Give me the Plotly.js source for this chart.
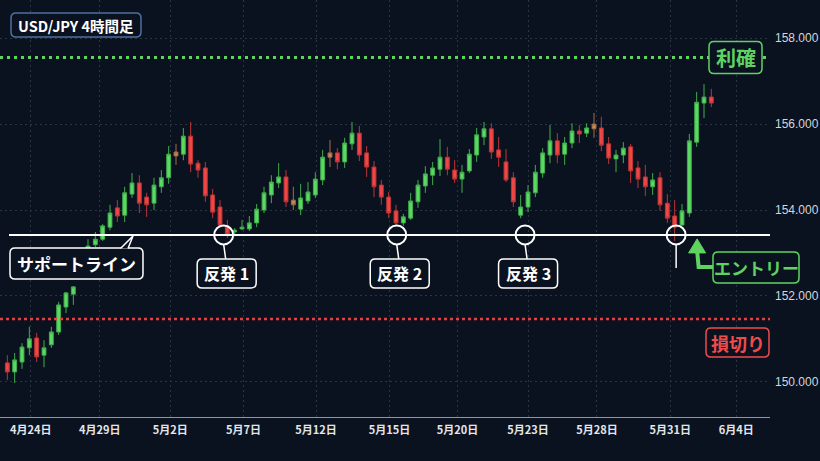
<!DOCTYPE html>
<html><head><meta charset="utf-8">
<script src="https://cdn.plot.ly/plotly-3.0.1.min.js"></script>
<style>html,body{margin:0;padding:0;background:#0a1220;}#chart{width:820px;height:461px;}</style>
</head><body><div id="chart"></div>
<script>
// ---- data (USD/JPY 4H candles) ----
const openP  = [150.44,150.23,150.46,150.79,151.02,150.62,150.86,151.16,151.74,152.04,
  152.49,153.12,153.19,153.32,153.60,154.05,153.88,154.37,154.63,154.30,
  154.16,154.54,154.75,155.26,155.30,155.72,155.09,154.98,154.35,154.07,
  153.63,153.49,153.56,153.56,153.70,154.00,154.35,154.63,154.77,154.23,
  154.02,154.21,154.35,154.70,155.23,155.33,155.12,155.54,155.79,155.33,
  155.00,154.58,154.30,153.98,153.70,153.81,154.19,154.56,154.81,154.95,
  155.23,154.93,154.72,154.91,155.28,155.70,155.89,155.40,155.12,154.75,
  153.88,154.07,154.40,154.86,155.28,155.61,155.30,155.56,155.84,155.79,
  155.89,155.91,155.54,155.19,155.28,155.47,154.98,154.77,154.54,154.75,
  154.16,153.86,153.65,153.93,155.58,156.49,156.63];
const highP  = [150.62,150.67,150.90,151.28,151.14,150.97,151.28,151.86,152.09,152.23,
  153.04,153.32,153.49,153.67,154.12,154.23,154.54,154.86,154.81,154.40,
  154.75,154.93,155.49,155.54,155.91,156.05,155.16,155.12,154.49,154.23,
  153.77,153.58,153.77,153.86,154.14,154.54,154.81,155.09,154.93,154.54,
  154.61,154.65,154.88,155.40,155.63,155.44,155.68,156.05,155.96,155.49,
  155.14,154.70,154.42,154.12,153.91,154.40,154.70,155.02,155.12,155.65,
  155.47,155.16,155.05,155.42,155.91,156.05,156.02,155.70,155.42,154.88,
  154.35,154.58,155.05,155.44,155.98,155.79,155.70,156.02,155.98,156.02,
  156.26,156.17,155.70,155.40,155.58,155.54,155.14,155.05,154.86,154.88,
  154.37,154.23,154.14,155.77,156.75,156.93,156.82];
const lowP   = [150.04,149.97,150.30,150.62,150.46,150.34,150.79,151.09,151.60,151.79,
  152.44,153.09,153.14,153.28,153.53,153.72,153.72,154.28,153.93,153.84,
  154.00,154.40,154.61,155.05,155.16,154.88,154.75,154.19,153.81,153.58,
  153.35,153.39,153.53,153.51,153.60,153.93,154.16,154.51,154.07,154.00,
  153.88,154.14,154.28,154.58,155.00,154.95,154.98,155.40,155.14,154.77,
  154.30,154.12,153.81,153.63,153.63,153.77,154.05,154.40,154.58,154.79,
  154.81,154.63,154.40,154.86,155.12,155.51,155.19,155.00,154.65,154.07,
  153.81,153.95,154.30,154.75,155.09,155.09,155.05,155.44,155.56,155.70,
  155.68,155.37,155.07,154.88,155.09,154.63,154.51,154.33,154.35,153.98,
  153.70,153.28,153.63,153.84,155.47,156.14,156.40];
const closeP = [150.23,150.51,150.81,151.00,150.58,150.79,151.16,151.79,152.07,152.21,
  152.95,153.16,153.32,153.63,153.93,153.86,154.40,154.63,154.16,154.12,
  154.58,154.75,155.30,155.35,155.72,155.07,154.93,154.33,153.95,153.65,
  153.44,153.53,153.60,153.70,154.02,154.40,154.65,154.77,154.19,154.12,
  154.28,154.42,154.72,155.23,155.33,155.12,155.56,155.79,155.28,155.00,
  154.54,154.30,153.93,153.70,153.84,154.21,154.58,154.84,154.98,155.23,
  154.95,154.72,154.88,155.30,155.75,155.89,155.35,155.23,154.70,154.19,
  154.07,154.42,154.88,155.33,155.61,155.28,155.56,155.84,155.77,155.91,
  156.00,155.51,155.21,155.28,155.44,154.91,154.72,154.54,154.70,154.12,
  153.81,153.60,153.98,155.61,156.51,156.63,156.49];
const neutralBars = [23, 39, 44, 80];          // small doji-like candles (tan)
const tickPos    = [3.2, 12.6, 22.2, 32.2, 42.1, 52.1, 61.4, 71.0, 80.4, 90.4, 99.4];
const tickLabels = ['4月24日','4月29日','5月2日','5月7日','5月12日','5月15日','5月20日','5月23日','5月28日','5月31日','6月4日'];
const yTicks     = [150, 152, 154, 156, 158];
const supportLevel = 153.42;
const takeProfit   = 157.55;
const stopLoss     = 151.46;
const bounceAt     = [29.5, 53.1, 70.6];
const bounceLabels = ['反発 1', '反発 2', '反発 3'];
const entryAt      = 91.2;

// ---- build ----
const bars = openP.map((_, i) => i);
const isNeutral = bars.map(i => neutralBars.includes(i));
const pick = (arr, keep) => arr.map((v, i) => (isNeutral[i] === keep ? v : null));

const BG = '#0a1220';
const GREEN = '#5bd963', GREEN_L = '#41ad4c';
const RED = '#ef4646', RED_L = '#bd3636';
const TAN = '#c98a5c', TAN_L = '#a46c46';
const LGREEN = '#5fd35f', LRED = '#ef4b4b';
const JP = '"Noto Sans CJK JP", "Noto Sans", sans-serif';

const main = {
  type: 'candlestick', x: bars,
  open: pick(openP, false), high: pick(highP, false), low: pick(lowP, false), close: pick(closeP, false),
  increasing: {line: {color: GREEN_L, width: 1}, fillcolor: GREEN},
  decreasing: {line: {color: RED_L, width: 1}, fillcolor: RED},
  hoverinfo: 'skip'
};
const neutral = {
  type: 'candlestick', x: bars,
  open: pick(openP, true), high: pick(highP, true), low: pick(lowP, true), close: pick(closeP, true),
  increasing: {line: {color: TAN_L, width: 1}, fillcolor: TAN},
  decreasing: {line: {color: TAN_L, width: 1}, fillcolor: TAN},
  hoverinfo: 'skip'
};

function rrPath(cx, cy, w, h, r) {   // pixel offsets, cy measured downward
  const L = cx - w/2, R = cx + w/2, T = -(cy - h/2), B = -(cy + h/2);
  return `M${L+r},${T} L${R-r},${T} Q${R},${T} ${R},${T-r} L${R},${B+r} Q${R},${B} ${R-r},${B} ` +
         `L${L+r},${B} Q${L},${B} ${L},${B+r} L${L},${T-r} Q${L},${T} ${L+r},${T} Z`;
}
function boxShape(xref, xa, yref, ya, cx, cy, w, h, color, lw) {
  return {type: 'path', xref, yref, xsizemode: 'pixel', ysizemode: 'pixel', xanchor: xa, yanchor: ya,
    path: rrPath(cx, cy, w, h, 5), line: {color, width: lw}, fillcolor: BG, layer: 'above'};
}
function pxPath(xref, xa, yref, ya, pts, close, color, lw, fill) {
  const d = pts.map((p, i) => (i ? 'L' : 'M') + p[0] + ',' + (-p[1])).join(' ') + (close ? ' Z' : '');
  return {type: 'path', xref, yref, xsizemode: 'pixel', ysizemode: 'pixel', xanchor: xa, yanchor: ya,
    path: d, line: {color, width: lw}, fillcolor: fill || 'rgba(0,0,0,0)', layer: 'above'};
}
function circ(xa) {
  return {type: 'circle', xref: 'x', yref: 'y', xsizemode: 'pixel', ysizemode: 'pixel',
    xanchor: xa, yanchor: supportLevel, x0: -9.5, x1: 9.5, y0: -9.5, y1: 9.5,
    line: {color: '#ffffff', width: 2}, layer: 'above'};
}

const shapes = [
  {type: 'line', xref: 'paper', yref: 'y', x0: 0, x1: 1, y0: takeProfit, y1: takeProfit,
   line: {color: LGREEN, width: 3, dash: '3px,4px'}, layer: 'above'},
  {type: 'line', xref: 'paper', yref: 'y', x0: 0, x1: 1, y0: stopLoss, y1: stopLoss,
   line: {color: '#e2403f', width: 2.5, dash: '3px,3px'}, layer: 'above'},
  {type: 'line', xref: 'paper', yref: 'y', x0: 0.0117, x1: 1, y0: supportLevel, y1: supportLevel,
   line: {color: '#ffffff', width: 2}, layer: 'above'},
  // support label box + tail
  boxShape('x', 9.43, 'y', supportLevel, 0, 28.5, 133, 31, '#ffffff', 1.5),
  pxPath('x', 9.43, 'y', supportLevel, [[44, 13.5], [56.5, 1], [51.5, 13.5]], false, '#ffffff', 1.5, BG),
  // bounce circles, pointers, boxes
  ...bounceAt.map(b => circ(b)),
  ...bounceAt.map(b => pxPath('x', b, 'y', supportLevel, [[0, 9.5], [2, 24]], false, '#ffffff', 1.5)),
  ...bounceAt.map(b => boxShape('x', b, 'y', supportLevel, 3, 38.5, 59, 29, '#ffffff', 1.5)),
  // entry
  circ(entryAt),
  pxPath('x', entryAt, 'y', supportLevel, [[0, 9.5], [0, 33]], false, '#ffffff', 1.5),
  pxPath('x', entryAt, 'y', supportLevel, [[21, 16], [22.5, 32], [37, 32]], false, LGREEN, 4),
  pxPath('x', entryAt, 'y', supportLevel, [[21, 4], [12.5, 18], [29.5, 18]], true, LGREEN, 1, LGREEN),
  boxShape('paper', 1, 'y', supportLevel, -14, 32.5, 86, 31, LGREEN, 1.5),
  // take-profit / stop-loss boxes
  boxShape('paper', 1, 'y', takeProfit, -34.5, 0, 53, 32, LGREEN, 1.5),
  boxShape('paper', 1, 'y', stopLoss, -32.5, 23.5, 63, 29, LRED, 1.5),
  // title box
  boxShape('paper', 0, 'paper', 1, 76, 25, 130, 24, '#4f6f9f', 1.5)
];

function note(text, xref, x, y, yref, xshift, yshift, size, color) {
  return {text: '<b>' + text + '</b>', xref, x, yref, y, xshift, yshift, showarrow: false,
    xanchor: 'center', yanchor: 'middle', font: {family: JP, size, color}};
}
const annotations = [
  note('USD/JPY 4時間足', 'paper', 0, 1, 'paper', 76, -25, 14.5, '#ffffff'),
  note('サポートライン', 'x', 9.43, supportLevel, 'y', 0, -28.5, 17, '#ffffff'),
  ...bounceAt.map((b, i) => note(bounceLabels[i], 'x', b, supportLevel, 'y', 3, -38.5, 16, '#ffffff')),
  note('エントリー', 'paper', 1, supportLevel, 'y', -14, -32.5, 17, LGREEN),
  note('利確', 'paper', 1, takeProfit, 'y', -34.5, 0, 20, LGREEN),
  note('損切り', 'paper', 1, stopLoss, 'y', -32.5, -23.5, 18, LRED)
];

const layout = {
  width: 820, height: 461,
  margin: {l: 0, r: 50, t: 0, b: 44},
  paper_bgcolor: BG, plot_bgcolor: BG,
  showlegend: false, hovermode: false,
  boxgap: 0.25,
  xaxis: {
    range: [-1.0, 104.0], rangeslider: {visible: false},
    tickmode: 'array', tickvals: tickPos, ticktext: tickLabels,
    ticks: '', ticklabelstandoff: 3,
    tickfont: {family: JP, size: 11, color: '#e3e6ea', weight: 'bold'},
    showgrid: true, gridcolor: '#2a3443', griddash: '2px,3px', gridwidth: 1,
    showline: true, linecolor: '#8e96a2', linewidth: 1, zeroline: false, fixedrange: true
  },
  yaxis: {
    side: 'right', range: [149.18, 158.89],
    tickmode: 'array', tickvals: yTicks, ticktext: yTicks.map(v => v.toFixed(3)),
    ticks: '', ticklabelstandoff: 4,
    tickfont: {family: 'Liberation Sans, Arial, sans-serif', size: 12, color: '#d3d6db'},
    showgrid: true, gridcolor: '#2a3443', griddash: '2px,3px', gridwidth: 1,
    showline: false, zeroline: false, fixedrange: true
  },
  shapes, annotations
};

Plotly.newPlot('chart', [main, neutral], layout, {staticPlot: true, displayModeBar: false});
</script></body></html>
